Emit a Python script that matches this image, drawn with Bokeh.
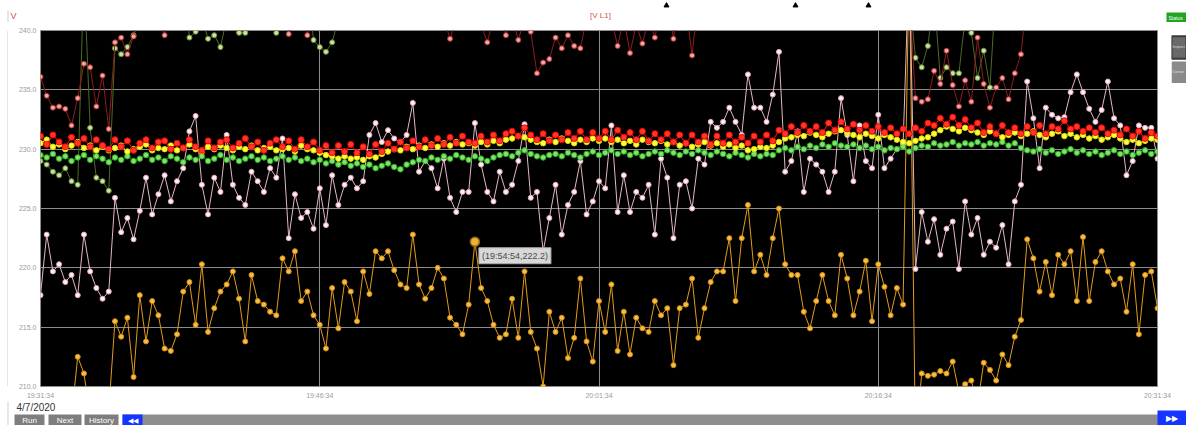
from datetime import datetime, timedelta
from bokeh.plotting import figure
from bokeh.layouts import column, row
from bokeh.models import FixedTicker, Label, PrintfTickFormatter, Range1d
from bokeh.core.properties import value
from bokeh.embed import file_html
from bokeh.resources import INLINE

# ---------------- data ----------------
start_time = "19:31:34"
date_text = "4/7/2020"
title_text = "[V L1]"
unit_text = "V"
x_tick_min = [0, 15, 30, 45, 60]
x_tick_labels = ["19:31:34", "19:46:34", "20:01:34", "20:16:34", "20:31:34"]
y_ticks = [210, 215, 220, 225, 230, 235, 240]
step_seconds = 20
button_labels = ["Run", "Next", "History"]
side_labels = ["Status", "Inspect", "Cursor"]
tooltip_index = 70

pink = [
    217.7, 222.8, 219.7, 220.3, 218.8, 219.4, 217.7, 222.8, 219.7, 218.3,
    217.4, 218.0, 225.9, 223.0, 224.2, 222.4, 224.8, 227.6, 224.5, 226.2,
    227.8, 225.6, 227.3, 228.4, 231.5, 232.8, 227.0, 224.5, 227.6, 226.4,
    231.2, 227.0, 225.9, 225.3, 228.1, 227.3, 226.4, 228.4, 227.6, 230.9,
    222.5, 226.2, 224.2, 224.7, 223.3, 226.7, 223.6, 227.8, 225.3, 227.0,
    227.6, 226.7, 227.3, 231.2, 232.2, 230.6, 231.6, 230.9, 230.6, 231.2,
    233.9, 228.1, 229.0, 228.4, 226.7, 229.2, 225.9, 224.7, 226.4, 226.4,
    232.2, 228.7, 226.4, 225.6, 228.1, 226.4, 227.0, 229.0, 232.1, 225.9,
    226.4, 221.4, 224.2, 227.0, 222.8, 225.3, 226.4, 229.0, 224.5, 225.6,
    227.3, 226.7, 232.0, 224.7, 227.8, 224.7, 226.4, 225.9, 227.0, 222.8,
    229.2, 227.6, 222.5, 227.0, 227.3, 225.0, 229.2, 228.7, 232.3, 231.8,
    232.3, 233.5, 232.3, 231.2, 236.3, 233.5, 233.5, 232.3, 234.6, 238.2,
    228.1, 229.0, 231.5, 226.4, 229.2, 228.7, 228.1, 226.4, 228.1, 234.3,
    231.2, 227.3, 232.0, 229.0, 228.4, 232.9, 228.4, 229.2, 230.0, 230.4,
    246.0, 219.9, 224.7, 222.2, 224.1, 221.1, 223.3, 223.9, 219.9, 225.6,
    222.8, 224.2, 221.1, 222.2, 221.7, 223.6, 220.3, 225.6, 227.0, 235.7,
    232.6, 228.4, 233.5, 232.9, 232.6, 232.7, 234.8, 236.3, 234.8, 233.4,
    232.3, 233.3, 235.7, 232.6, 232.0, 227.8, 229.0, 232.0, 231.8, 231.8,
    229.2,
]

orange = [
    208.0, 207.5, 208.0, 207.5, 208.0, 207.5, 212.5, 211.1, 207.5, 208.0,
    207.5, 208.0, 215.5, 214.2, 215.8, 210.8, 217.7, 213.8, 217.2, 216.0,
    213.2, 213.0, 214.4, 218.0, 218.8, 215.2, 220.3, 214.6, 216.6, 218.0,
    218.6, 219.7, 217.4, 213.8, 219.4, 217.2, 216.9, 216.3, 216.0, 220.8,
    219.7, 221.4, 217.2, 218.0, 216.0, 215.2, 213.2, 218.3, 214.9, 218.8,
    218.0, 215.5, 219.7, 217.8, 221.4, 220.8, 221.4, 219.8, 218.6, 218.3,
    222.8, 218.6, 217.4, 218.3, 220.0, 219.1, 215.8, 215.2, 214.4, 216.9,
    222.2, 218.3, 217.2, 215.2, 214.1, 214.4, 217.4, 214.1, 219.7, 214.6,
    213.2, 210.0, 216.3, 214.6, 215.8, 212.4, 214.1, 219.1, 213.8, 212.1,
    217.2, 214.6, 218.6, 213.0, 216.3, 212.7, 215.8, 214.9, 214.6, 217.2,
    216.0, 216.6, 211.8, 216.6, 216.9, 219.1, 214.1, 216.6, 218.8, 219.7,
    219.7, 222.5, 217.2, 222.5, 225.3, 219.7, 221.1, 219.4, 222.5, 225.0,
    220.3, 219.4, 219.4, 216.3, 214.9, 217.2, 219.4, 217.2, 216.0, 221.1,
    219.1, 216.0, 218.0, 220.6, 215.5, 220.3, 218.4, 216.0, 218.3, 216.9,
    246.0, 205.0, 211.1, 210.9, 211.0, 211.3, 211.1, 212.1, 209.5, 210.2,
    210.5, 208.5, 212.0, 211.4, 210.5, 212.7, 211.8, 214.2, 215.6, 222.4,
    220.8, 218.0, 220.5, 217.7, 221.1, 220.3, 221.4, 217.2, 222.6, 217.2,
    220.5, 221.4, 219.7, 218.6, 219.1, 216.3, 220.3, 214.4, 219.4, 219.7,
    216.6,
]

red = [
    231.1, 230.4, 231.2, 230.6, 230.2, 231.0, 230.5, 230.9, 230.2, 230.8,
    230.3, 230.0, 230.8, 230.2, 230.7, 229.9, 230.5, 230.8, 230.1, 230.6,
    230.7, 230.0, 230.5, 230.1, 230.8, 230.2, 229.9, 230.7, 230.1, 230.6,
    230.8, 230.1, 230.5, 230.9, 230.2, 230.6, 229.9, 230.5, 230.8, 230.2,
    230.7, 230.0, 230.8, 230.2, 230.6, 229.9, 230.3, 229.7, 230.3, 229.8,
    230.4, 229.7, 230.2, 229.6, 230.4, 229.8, 230.5, 230.0, 230.6, 230.1,
    230.7, 230.2, 230.8, 230.3, 230.9, 230.4, 231.0, 230.5, 231.1, 230.6,
    230.5, 231.1, 230.6, 231.2, 230.7, 231.3, 231.5, 231.1, 231.8, 231.2,
    230.8, 231.3, 230.7, 231.2, 230.8, 231.4, 230.9, 231.5, 230.8, 231.4,
    230.9, 231.5, 230.8, 231.6, 231.0, 231.4, 230.8, 231.5, 230.7, 231.3,
    230.8, 231.3, 230.6, 231.2, 230.5, 231.2, 230.6, 231.1, 230.4, 231.1,
    230.5, 231.2, 230.6, 231.0, 230.5, 231.1, 230.6, 231.2, 230.7, 231.6,
    231.3, 231.9, 231.4, 232.0, 231.5, 231.9, 231.4, 232.2, 231.6, 232.3,
    231.7, 232.1, 231.6, 232.0, 231.5, 231.9, 231.4, 231.8, 231.3, 231.7,
    231.3, 231.8, 231.5, 232.2, 232.0, 232.6, 232.1, 232.7, 232.0, 232.5,
    231.8, 232.2, 231.4, 231.9, 231.3, 232.0, 231.4, 231.8, 231.3, 231.9,
    231.4, 232.0, 231.3, 231.9, 231.7, 232.4, 231.7, 231.9, 231.5, 231.8,
    231.4, 231.8, 231.3, 231.6, 231.2, 231.7, 231.1, 231.5, 230.9, 231.4,
    231.1,
]

yellow = [
    230.5, 230.8, 230.2, 230.4, 230.0, 230.3, 230.6, 230.1, 230.3, 229.9,
    230.2, 229.9, 230.1, 230.3, 229.8, 230.0, 230.2, 230.4, 229.9, 230.1,
    230.0, 230.3, 229.9, 230.1, 230.4, 230.0, 229.8, 230.2, 230.0, 230.3,
    230.1, 229.9, 230.2, 230.0, 230.3, 229.9, 230.1, 230.2, 229.9, 230.0,
    230.1, 229.8, 230.3, 230.0, 229.9, 229.7, 229.5, 229.4, 229.2, 229.4,
    229.2, 229.3, 229.1, 229.4, 229.3, 229.6, 229.8, 230.0, 229.9, 230.2,
    230.0, 230.3, 230.1, 230.4, 230.2, 230.5, 230.3, 230.6, 230.4, 230.5,
    230.3, 230.6, 230.4, 230.7, 230.5, 230.8, 230.9, 231.1, 231.0, 230.8,
    230.6, 230.5, 230.8, 230.6, 230.9, 230.7, 230.5, 230.8, 230.6, 230.9,
    230.7, 230.9, 230.6, 230.8, 230.5, 230.7, 230.4, 230.8, 230.6, 230.5,
    230.7, 230.4, 230.6, 230.3, 230.5, 230.2, 230.4, 230.6, 230.3, 230.5,
    230.2, 230.4, 230.1, 230.3, 229.9, 230.0, 230.2, 230.1, 230.3, 230.6,
    230.9, 231.0, 231.2, 231.1, 231.4, 231.2, 231.0, 231.3, 231.5, 231.6,
    231.4, 231.2, 231.0, 231.3, 231.1, 230.9, 231.2, 231.0, 230.8, 230.6,
    230.5, 230.7, 230.9, 231.0, 231.3, 231.6, 231.9, 231.7, 231.5, 231.8,
    231.6, 231.4, 231.2, 231.5, 231.3, 231.0, 231.2, 231.4, 231.1, 231.3,
    231.5, 231.2, 231.0, 231.3, 231.5, 231.1, 231.3, 231.0, 231.2, 230.9,
    231.1, 230.8, 231.0, 231.2, 230.9, 230.6, 230.8, 230.5, 230.7, 230.9,
    230.8,
]

green = [
    229.5, 229.3, 229.6, 229.2, 229.4, 229.0, 229.3, 229.5, 229.1, 229.4,
    229.2, 228.9, 229.3, 229.1, 229.4, 229.0, 229.2, 229.5, 229.1, 229.3,
    229.0, 229.4, 229.2, 228.9, 229.3, 229.1, 229.4, 229.0, 229.2, 229.5,
    229.1, 229.3, 229.0, 229.2, 229.4, 229.1, 229.3, 229.0, 229.2, 229.4,
    229.1, 229.3, 229.0, 229.2, 228.9, 229.1, 228.8, 229.0, 228.7, 228.9,
    228.6, 228.8, 228.5, 228.7, 228.4, 228.6, 228.8, 228.5, 228.3, 228.7,
    228.9, 229.1, 229.0, 229.3, 229.1, 229.4, 229.2, 229.5, 229.3, 229.1,
    229.4, 229.2, 229.0, 229.3, 229.5, 229.6, 229.4, 229.7, 229.9, 229.6,
    229.4, 229.3, 229.5, 229.6, 229.4, 229.7, 229.5, 229.3, 229.6, 229.8,
    229.5, 229.7, 229.9, 229.6, 229.8, 229.5, 229.7, 229.4, 229.6, 229.8,
    229.6, 229.9, 229.7, 229.5, 229.8, 229.6, 229.9, 229.7, 229.5, 229.8,
    229.6, 229.4, 229.7, 229.5, 229.3, 229.6, 229.4, 229.6, 229.5, 229.9,
    230.1, 229.9, 230.2, 230.0, 230.3, 230.1, 230.4, 230.2, 230.5, 230.3,
    230.2, 230.4, 230.1, 230.3, 230.0, 230.2, 229.9, 230.1, 230.0, 230.2,
    229.8, 230.1, 230.3, 230.2, 230.5, 230.3, 230.4, 230.6, 230.3, 230.5,
    230.4, 230.6, 230.3, 230.5, 230.4, 230.6, 230.3, 230.5, 230.1, 229.9,
    229.8, 230.0, 229.7, 229.9, 229.6, 229.8, 230.0, 229.7, 229.9, 229.6,
    229.8, 229.5, 229.7, 229.9, 229.6, 229.8, 229.5, 229.7, 229.9, 229.6,
    229.8,
]

dark_red = [
    236.1, 234.5, 233.5, 233.6, 233.4, 232.0, 234.3, 237.2, 236.9, 233.6,
    236.2, 231.7, 239.0, 239.4, 238.0, 239.5, 243.0, 242.0, 244.0, 241.0,
    239.6, 242.0, 245.0, 243.0, 241.0, 244.0, 242.0, 245.0, 243.0, 241.0,
    244.0, 242.0, 241.5, 244.0, 243.0, 245.0, 242.0, 244.0, 241.0, 243.0,
    239.7, 242.0, 244.0, 239.6, 242.0, 245.0, 243.0, 241.0, 244.0, 242.0,
    245.0, 243.0, 241.0, 244.0, 242.0, 245.0, 243.0, 241.0, 244.0, 242.0,
    245.0, 243.0, 241.0, 244.0, 242.0, 241.0, 239.3, 241.0, 243.0, 241.0,
    242.0, 240.5, 239.0, 241.0, 242.0, 239.6, 241.0, 239.2, 241.0, 239.9,
    236.4, 237.3, 237.6, 239.4, 238.5, 239.6, 238.7, 238.5, 241.0, 240.5,
    242.0, 242.0, 241.0, 238.7, 241.0, 238.1, 240.5, 238.9, 241.0, 239.4,
    242.0, 243.0, 239.3, 243.0, 242.0, 237.9, 243.0, 245.0, 242.0, 244.0,
    243.0, 241.0, 245.0, 242.0, 244.0, 243.0, 241.0, 245.0, 242.0, 244.0,
    243.0, 241.0, 245.0, 242.0, 244.0, 243.0, 241.0, 245.0, 242.0, 244.0,
    243.0, 241.0, 245.0, 242.0, 244.0, 243.0, 241.0, 245.0, 242.0, 244.0,
    243.0, 234.3, 234.0, 234.2, 236.6, 235.5, 238.3, 235.4, 233.6, 235.8,
    234.0, 239.4, 235.5, 233.5, 235.2, 236.0, 234.2, 236.4, 238.0, 243.0,
    244.0, 242.0, 245.0, 243.0, 241.0, 244.0, 242.0, 245.0, 243.0, 241.0,
    244.0, 242.0, 245.0, 243.0, 241.0, 244.0, 242.0, 245.0, 243.0, 241.0,
    244.0,
]

olive = [
    229.0, 228.7, 228.1, 227.8, 228.4, 227.3, 227.0, 245.0, 231.8, 227.6,
    227.3, 226.5, 238.5, 238.0, 238.6, 239.6, 241.0, 243.0, 242.0, 244.0,
    241.0, 243.0, 242.0, 244.0, 239.4, 239.9, 241.0, 239.3, 239.6, 238.6,
    241.0, 242.0, 239.8, 239.8, 242.0, 244.0, 243.0, 241.0, 239.8, 242.0,
    244.0, 243.0, 241.0, 244.0, 239.2, 238.6, 238.2, 239.0, 241.0, 243.0,
    242.0, 244.0, 241.0, 243.0, 245.0, 242.0, 244.0, 241.0, 243.0, 245.0,
    242.0, 244.0, 241.0, 243.0, 245.0, 242.0, 244.0, 241.0, 243.0, 245.0,
    242.0, 244.0, 241.0, 243.0, 245.0, 242.0, 244.0, 241.0, 243.0, 245.0,
    242.0, 244.0, 241.0, 243.0, 245.0, 242.0, 244.0, 241.0, 243.0, 245.0,
    242.0, 244.0, 241.0, 243.0, 245.0, 242.0, 244.0, 241.0, 243.0, 245.0,
    242.0, 244.0, 241.0, 243.0, 245.0, 242.0, 244.0, 241.0, 243.0, 245.0,
    242.0, 244.0, 241.0, 243.0, 245.0, 242.0, 244.0, 241.0, 243.0, 245.0,
    242.0, 244.0, 241.0, 243.0, 245.0, 242.0, 244.0, 241.0, 243.0, 245.0,
    242.0, 244.0, 241.0, 243.0, 245.0, 242.0, 244.0, 241.0, 243.0, 245.0,
    243.0, 237.7, 236.9, 238.7, 243.0, 236.0, 236.9, 236.4, 236.4, 241.0,
    239.8, 236.0, 238.3, 235.2, 244.0, 242.0, 245.0, 243.0, 241.0, 244.0,
    242.0, 244.0, 241.0, 243.0, 245.0, 242.0, 244.0, 241.0, 243.0, 245.0,
    242.0, 244.0, 241.0, 243.0, 245.0, 242.0, 244.0, 241.0, 243.0, 245.0,
    242.0,
]

# time axis in minutes after the start time
n = len(pink)
t = [i * step_seconds / 60.0 for i in range(n)]

FONT = "Liberation Sans"

# ---------------- helper: a pixel strip (frame covers whole canvas) ----------------
def strip(x0, y0, w, h):
    s = figure(width=w, height=h, output_backend="svg", toolbar_location=None,
               x_range=Range1d(x0, x0 + w), y_range=Range1d(y0 + h, y0),
               x_axis_location=None, y_axis_location=None,
               min_border_left=0, min_border_right=0, min_border_top=0, min_border_bottom=0,
               background_fill_color="white", border_fill_color="white")
    s.outline_line_color = None
    s.xgrid.visible = False
    s.ygrid.visible = False
    return s

def box(s, l, tp, r, b, color, line=None, lw=1):
    s.quad(left=[l], right=[r], top=[tp], bottom=[b], fill_color=color,
           line_color=line, line_width=lw)

def txt(s, x, y, text, size, color, align="left", baseline="middle", style="normal"):
    s.text(x=[x], y=[y], text=[text], text_font=value(FONT), text_font_size=value(size),
           text_color=color, text_align=align, text_baseline=baseline,
           text_font_style=style)

# ---------------- top strip ----------------
top = strip(0, 0, 1186, 22)
txt(top, 13, 15, unit_text, "9px", "#e04848", align="center")
txt(top, 600, 15, title_text, "8px", "#d05050", align="center")
box(top, 7, 10, 8, 22, "#cfcfcf")
for bx in (666, 795, 868):
    top.scatter([bx], [5], marker="triangle", size=5, fill_color="black", line_color="black")
box(top, 1166, 12, 1186, 22, "#21a521")
txt(top, 1168, 17, side_labels[0], "5px", "white")

# ---------------- left strip ----------------
H_MID = 379
left = strip(0, 22, 8, H_MID)
box(left, 7, 22, 8, 22 + H_MID, "#cfcfcf")

# ---------------- main chart ----------------
p = figure(width=1163, height=H_MID, output_backend="svg", toolbar_location=None,
           x_range=Range1d(0, 60), y_range=Range1d(210, 240),
           min_border_left=32, min_border_right=14, min_border_top=8, min_border_bottom=15,
           background_fill_color="black", border_fill_color="white")
p.outline_line_color = "#8c8c8c"

p.xaxis.ticker = FixedTicker(ticks=x_tick_min)
p.xaxis.major_label_overrides = {k: v for k, v in zip(x_tick_min, x_tick_labels)}
p.yaxis.ticker = FixedTicker(ticks=y_ticks)
p.yaxis.formatter = PrintfTickFormatter(format="%.1f")
for ax in (p.xaxis, p.yaxis):
    ax.axis_line_color = None
    ax.major_tick_line_color = None
    ax.minor_tick_line_color = None
    ax.major_tick_out = 0
    ax.major_tick_in = 0
    ax.minor_tick_out = 0
    ax.minor_tick_in = 0
    ax.major_label_text_font = FONT
    ax.major_label_text_font_size = "7px"
    ax.major_label_text_color = "#9a9a9a"
p.xaxis.major_label_standoff = 5
p.yaxis.major_label_standoff = 4
p.xgrid.ticker = FixedTicker(ticks=x_tick_min)
p.ygrid.ticker = FixedTicker(ticks=y_ticks)
for g in (p.xgrid, p.ygrid):
    g.grid_line_color = "#8c8c8c"
    g.grid_line_width = 1
    g.grid_line_alpha = 1.0

series = [
    (olive, "#4e6a22", "#c9e4a6", "#6b8a35", 5),
    (dark_red, "#8e1c1c", "#f2a6a6", "#b03030", 5),
    (orange, "#e39a1c", "#f6c048", "#d08a10", 5),
    (pink, "#e6b8c0", "#fff0f4", "#e0a8b4", 5),
    (green, "#1f9a1f", "#86e06a", "#23a823", 5.5),
    (yellow, "#e6e61a", "#ffff40", "#d8d800", 5.5),
    (red, "#ff1010", "#ff3a2a", "#ff0000", 6),
]
for vals, lc, fc, mc, sz in series:
    p.line(t, vals, line_color=lc, line_width=1)
    p.scatter(t, vals, size=sz, fill_color=fc, line_color=mc, line_width=1)

# highlighted point + tooltip
tt = t[tooltip_index]
tv = orange[tooltip_index]
p.scatter([tt], [tv], size=9, fill_color="#f0b030", line_color="#8a6a20", line_width=1.5)
t0 = datetime.strptime(start_time, "%H:%M:%S")
tip_time = (t0 + timedelta(seconds=tooltip_index * step_seconds)).strftime("%H:%M:%S")
p.add_layout(Label(x=tt, y=tv, x_offset=4, y_offset=-6, text=f"({tip_time},{tv:.1f})",
                   text_font=FONT, text_font_size="9px", text_color="#4a4a4a",
                   text_align="left", text_baseline="top",
                   background_fill_color="#d8d8d8", border_line_color="#a8a8a8",
                   padding=3))

# ---------------- right strip ----------------
right = strip(1171, 22, 15, H_MID)
box(right, 1171, 28, 1186, 52, "#696969", line="#3a3a3a", lw=2)
txt(right, 1172, 40, side_labels[1], "3.8px", "#dddddd")
box(right, 1171, 55, 1186, 78, "#8a8a8a")
txt(right, 1172, 66, side_labels[2], "3.8px", "#e0e0e0")

# ---------------- bottom strip ----------------
bottom = strip(0, 401, 1186, 24)
box(bottom, 7, 401, 8, 425, "#cfcfcf")
txt(bottom, 16, 407, date_text, "10px", "#333333")
for (l, r), lab in zip([(14, 44), (48, 81), (84, 118)], button_labels):
    box(bottom, l, 414, r, 425, "#7e7e7e")
    txt(bottom, (l + r) / 2, 420, lab, "8px", "white", align="center")
box(bottom, 122, 414, 1186, 425, "#8e8e8e")
box(bottom, 122, 414, 142, 425, "#1434ff")
txt(bottom, 132, 420, "\u25c0\u25c0", "7px", "white", align="center")
box(bottom, 1157, 410, 1186, 425, "#1434ff")
txt(bottom, 1171, 418, "\u25b6\u25b6", "8px", "white", align="center")

layout = column(top, row(left, p, right), bottom, spacing=0)
open("out.html", "w").write(file_html(layout, INLINE))
